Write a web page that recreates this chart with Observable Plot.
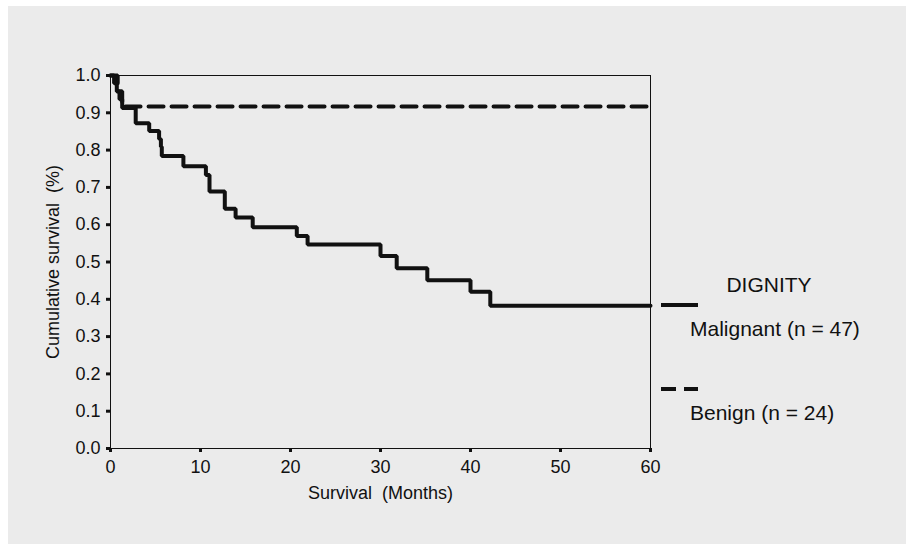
<!DOCTYPE html>
<html>
<head>
<meta charset="utf-8">
<script src="https://cdn.jsdelivr.net/npm/d3@7"></script>
<script src="https://cdn.jsdelivr.net/npm/@observablehq/plot@0.6"></script>
<style>
  html, body { margin: 0; padding: 0; background: #ffffff; width: 906px; height: 544px; overflow: hidden; }
  #bg { position: absolute; left: 8px; top: 6px; right: 0; bottom: 0; background: #ebebeb; }
  #chart { position: absolute; left: 0; top: 0; }
  #chart svg { background: transparent; }
</style>
</head>
<body>
<div id="bg"></div>
<div id="chart"></div>
<script>
// Kaplan-Meier steps (months, cumulative survival)
const malignantMonths = [0, 0.4, 0.7, 1.0, 1.3, 2.8, 4.3, 5.4, 5.6, 5.7, 8.1, 10.6, 11.0, 12.7, 13.9, 15.8, 20.7, 21.9, 30.0, 31.8, 35.2, 40.0, 42.2, 60];
const malignantSurvival = [1.0, 0.979, 0.957, 0.936, 0.913, 0.872, 0.851, 0.830, 0.809, 0.784, 0.757, 0.733, 0.689, 0.643, 0.619, 0.593, 0.570, 0.547, 0.516, 0.483, 0.451, 0.420, 0.383, 0.383];
const benignMonths = [0, 0.8, 1.3, 60];
const benignSurvival = [1.0, 0.958, 0.917, 0.917];

const xTicks = [0, 10, 20, 30, 40, 50, 60];
const yTicks = [0, 0.1, 0.2, 0.3, 0.4, 0.5, 0.6, 0.7, 0.8, 0.9, 1.0];

const xLabel = "Survival  (Months)";
const yLabel = "Cumulative survival  (%)";
const legendTitle = "DIGNITY";
const groups = ["Malignant (n = 47)", "Benign (n = 24)"];

const malignant = malignantMonths.map((m, i) => ({month: m, surv: malignantSurvival[i]}));
const benign = benignMonths.map((m, i) => ({month: m, surv: benignSurvival[i]}));

const font = "'Liberation Sans', Arial, Helvetica, sans-serif";

const chart = Plot.plot({
  width: 906,
  height: 544,
  marginLeft: 110,
  marginRight: 256,
  marginTop: 75,
  marginBottom: 96,
  style: {background: "transparent", fontFamily: font, color: "#111"},
  x: {domain: [0, 60]},
  y: {domain: [0, 1]},
  marks: [
    Plot.frame({stroke: "#111", strokeWidth: 1}),
    Plot.axisX({ticks: xTicks, tickSize: 4, tickPadding: 8, strokeWidth: 3, fontSize: 18, label: null, tickFormat: d => String(d)}),
    Plot.axisY({ticks: yTicks, tickSize: 4, tickPadding: 6, strokeWidth: 3, fontSize: 18, label: null, tickFormat: d => d.toFixed(1)}),
    Plot.line(benign, {x: "month", y: "surv", curve: "step-after", stroke: "#111", strokeWidth: 4, strokeDasharray: "15,8", strokeLinejoin: "miter"}),
    Plot.line(malignant, {x: "month", y: "surv", curve: "step-after", stroke: "#111", strokeWidth: 4, strokeLinejoin: "miter"}),
    Plot.text([xLabel], {frameAnchor: "bottom", dy: 45, lineAnchor: "middle", textAnchor: "middle", fontSize: 18, fill: "#111"}),
    Plot.text([yLabel], {frameAnchor: "left", dx: -57, rotate: -90, textAnchor: "middle", lineAnchor: "middle", fontSize: 18, fill: "#111"})
  ]
});

const svg = d3.select(chart);
const lg = svg.append("g").attr("font-family", font).attr("fill", "#111");
lg.append("text").attr("x", 769).attr("y", 284).attr("text-anchor", "middle").attr("dominant-baseline", "central").attr("font-size", 21).text(legendTitle);
lg.append("line").attr("x1", 661).attr("x2", 698).attr("y1", 305).attr("y2", 305).attr("stroke", "#111").attr("stroke-width", 4);
lg.append("text").attr("x", 690).attr("y", 328).attr("text-anchor", "start").attr("dominant-baseline", "central").attr("font-size", 21).text(groups[0]);
lg.append("line").attr("x1", 661).attr("x2", 698).attr("y1", 389).attr("y2", 389).attr("stroke", "#111").attr("stroke-width", 4).attr("stroke-dasharray", "15,8");
lg.append("text").attr("x", 690).attr("y", 412).attr("text-anchor", "start").attr("dominant-baseline", "central").attr("font-size", 21).text(groups[1]);

document.getElementById("chart").appendChild(chart);
</script>
</body>
</html>
